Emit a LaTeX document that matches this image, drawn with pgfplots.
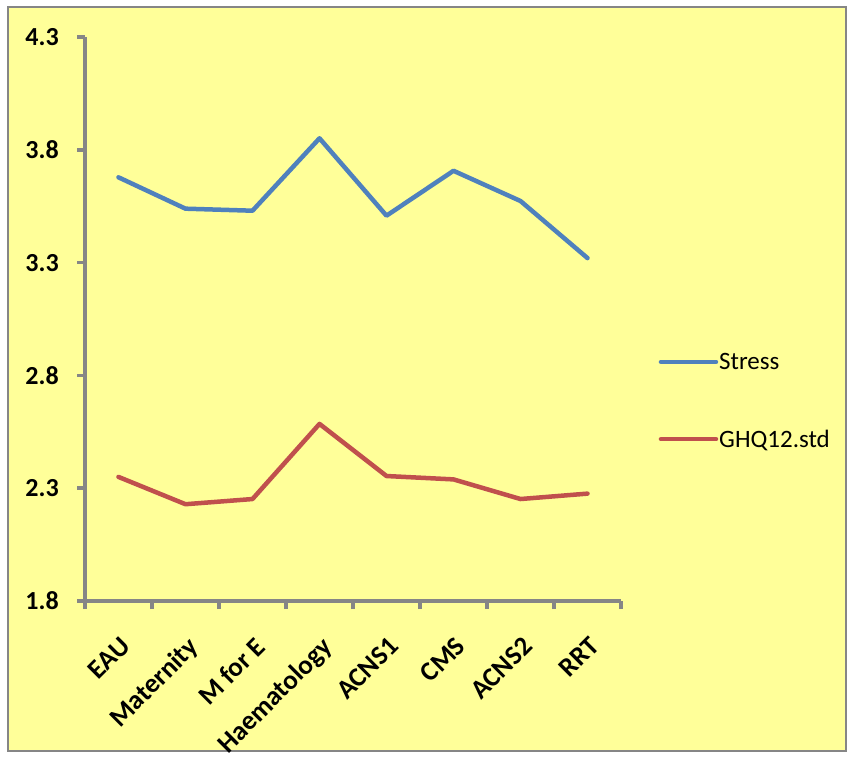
\documentclass[border=0pt]{standalone}
\usepackage{pgfplots}
\pgfplotsset{compat=1.18}
\usepackage{fontspec}
\setmainfont{Carlito}
\definecolor{bgyellow}{RGB}{255,255,153}
\definecolor{axgray}{RGB}{134,134,134}
\definecolor{stressblue}{RGB}{79,129,189}
\definecolor{ghqred}{RGB}{192,80,77}

\begin{document}
\begin{tikzpicture}[x=1pt,y=1pt]
\fill[white] (0,0) rectangle (853,758);
\filldraw[fill=bgyellow, draw=axgray, line width=1.5pt] (8,7) rectangle (846,751);
\begin{axis}[
  at={(85pt,157pt)}, anchor=south west,
  scale only axis, width=536pt, height=564pt,
  xmin=0, xmax=8, ymin=1.8, ymax=4.3,
  axis lines=left,
  axis line style={-},
  every outer x axis line/.append style={axgray, line width=3.5pt},
  every outer y axis line/.append style={axgray, line width=3.5pt},
  every tick/.append style={axgray, line width=3.5pt},
  tick align=outside,
  major tick length=8pt, minor tick length=8pt,
  ytick={1.8,2.3,2.8,3.3,3.8,4.3},
  yticklabels={1.8,2.3,2.8,3.3,3.8,4.3},
  y tick label style={font=\bfseries\fontsize{26}{31}\selectfont, anchor=east, inner sep=0pt, xshift=-18pt},
  xtick={0.5,1.5,2.5,3.5,4.5,5.5,6.5,7.5},
  xticklabels={EAU,Maternity,M for E,Haematology,ACNS1,CMS,ACNS2,RRT},
  minor xtick={0,1,2,3,4,5,6,7,8},
  major x tick style={draw=none},
  x tick label style={rotate=45, anchor=north east, inner sep=0pt,
    font=\bfseries\fontsize{27}{32}\selectfont, xshift=-18pt, yshift=-19pt},
  legend style={at={(1.07,0.355)}, anchor=west, draw=none, fill=none,
    font=\fontsize{25}{30}\selectfont, row sep=57pt, inner sep=0pt,
    nodes={inner sep=1pt}},
  legend cell align=left,
  legend image code/.code={\draw[#1, line cap=round] (0pt,0pt) -- (55pt,0pt);},
  clip=false,
]
\addplot[stressblue, line width=4.5pt, line join=round, line cap=round] coordinates {
  (0.5,3.678) (1.5,3.539) (2.5,3.530) (3.5,3.851)
  (4.5,3.508) (5.5,3.707) (6.5,3.573) (7.5,3.320)};
\addlegendentry{Stress}
\addplot[ghqred, line width=4.5pt, line join=round, line cap=round] coordinates {
  (0.5,2.350) (1.5,2.229) (2.5,2.252) (3.5,2.585)
  (4.5,2.354) (5.5,2.339) (6.5,2.252) (7.5,2.276)};
\addlegendentry{GHQ12.std}
\end{axis}
\pgfresetboundingbox
\useasboundingbox (0,0) rectangle (853,758);
\end{tikzpicture}
\end{document}
